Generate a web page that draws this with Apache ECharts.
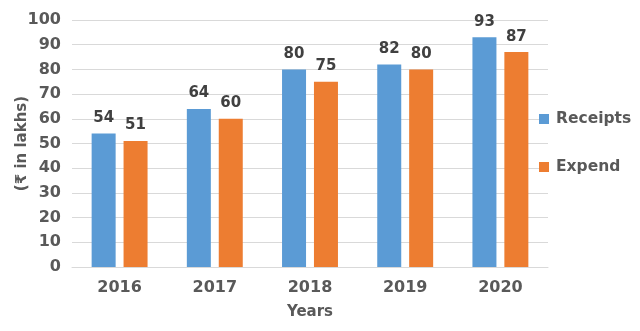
<!DOCTYPE html>
<html><head><meta charset="utf-8">
<script src="https://cdn.jsdelivr.net/npm/echarts@6/dist/echarts.min.js"></script>
<style>html,body{margin:0;padding:0;background:#fff}#c{width:640px;height:331px}</style>
</head><body><div id="c"></div>
<script>
const years = ['2016','2017','2018','2019','2020'];
const receipts = [54, 64, 80, 82, 93];
const expend = [51, 60, 75, 80, 87];
const yTicks = {min: 0, max: 100, interval: 10};
const F = 'DejaVu Sans';
const chart = echarts.init(document.getElementById('c'), null, {renderer: 'canvas'});
const lbl = {show: true, position: 'top', distance: 8, fontFamily: F, fontWeight: 'bold', fontSize: 15, color: '#404040'};
chart.setOption({
  animation: false,
  textStyle: {fontFamily: F},
  grid: {left: 72, right: 92, top: 20, bottom: 64, containLabel: false, outerBoundsMode: 'none'},
  legend: {
    orient: 'vertical', left: 534, top: 106, itemWidth: 10, itemHeight: 10, itemGap: 32,
    icon: 'rect',
    textStyle: {fontFamily: F, fontWeight: 'bold', fontSize: 15.5, color: '#595959', padding: [0, 0, 0, 2]},
    data: ['Receipts', 'Expend']
  },
  xAxis: {
    type: 'category', data: years,
    name: 'Years', nameLocation: 'middle', nameGap: 38,
    nameTextStyle: {fontFamily: F, fontWeight: 'bold', fontSize: 15, color: '#595959'},
    axisTick: {show: false},
    axisLine: {lineStyle: {color: '#d9d9d9', width: 1}},
    axisLabel: {fontFamily: F, fontWeight: 'bold', fontSize: 16, color: '#595959', margin: 13}
  },
  yAxis: {
    type: 'value', min: yTicks.min, max: yTicks.max, interval: yTicks.interval,
    name: '(₹ in lakhs)', nameLocation: 'middle', nameGap: 42, nameRotate: 90, nameMoveOverlap: false,
    nameTextStyle: {fontFamily: F, fontWeight: 'bold', fontSize: 15, color: '#595959'},
    axisLine: {show: false}, axisTick: {show: false},
    splitLine: {lineStyle: {color: '#d9d9d9', width: 1}},
    axisLabel: {fontFamily: F, fontWeight: 'bold', fontSize: 16, color: '#595959', margin: 11}
  },
  series: [
    {name: 'Receipts', type: 'bar', data: receipts, barWidth: 24, barGap: '33%', itemStyle: {color: '#5B9BD5', borderWidth: 0}, label: lbl},
    {name: 'Expend', type: 'bar', data: expend, barWidth: 24, barGap: '33%', itemStyle: {color: '#ED7D31', borderWidth: 0}, label: lbl}
  ]
});
</script></body></html>
